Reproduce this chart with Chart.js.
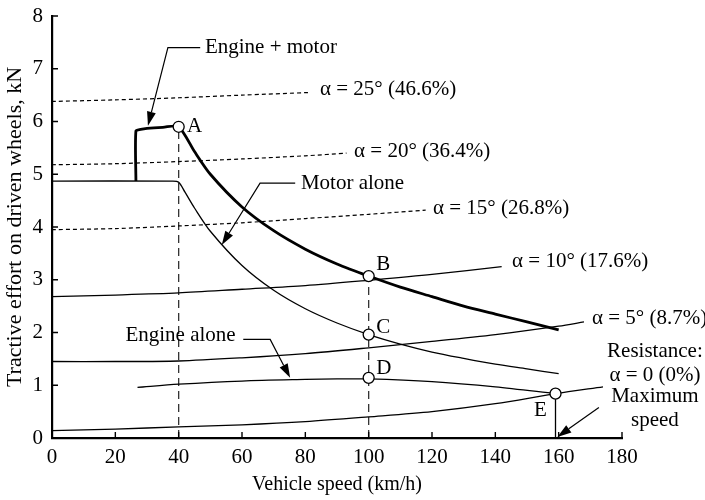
<!DOCTYPE html>
<html>
<head>
<meta charset="utf-8">
<script src="https://cdn.jsdelivr.net/npm/chart.js@4/dist/chart.umd.min.js"></script>
<style>
  html, body { margin: 0; padding: 0; background: #fff; }
</style>
</head>
<body>
<canvas id="myChart" width="705" height="500"></canvas>
<script>
// curves, [speed km/h, effort kN]
const engineMotor = [[26.5, 4.87], [26.5, 5.82], [28, 5.85], [30, 5.87], [35, 5.89], [40, 5.9], [45, 5.43], [50, 5.0], [60, 4.38], [70, 3.93], [80, 3.58], [90, 3.3], [100, 3.07], [110, 2.86], [120, 2.68], [130, 2.5], [140, 2.35], [150, 2.2], [160, 2.05]];
const motorAlone = [[0, 4.87], [38, 4.87], [40, 4.85], [42, 4.66], [45, 4.36], [50, 3.92], [60, 3.27], [70, 2.8], [80, 2.45], [90, 2.18], [100, 1.96], [110, 1.78], [120, 1.63], [130, 1.51], [140, 1.4], [150, 1.31], [160, 1.22]];
const engineAlone = [[27, 0.96], [40, 1.02], [60, 1.08], [80, 1.11], [90, 1.12], [100, 1.12], [120, 1.07], [140, 0.97], [159, 0.84]];

const grade0 = [[0, 0.14], [20, 0.17], [40, 0.21], [60, 0.25], [80, 0.31], [100, 0.4], [120, 0.5], [140, 0.65], [159, 0.84], [174, 0.97]];
const grade5 = [[0, 1.45], [20, 1.45], [40, 1.46], [60, 1.52], [80, 1.6], [100, 1.71], [120, 1.83], [140, 1.96], [160, 2.12], [168, 2.2]];
const grade10 = [[0, 2.68], [20, 2.71], [40, 2.75], [60, 2.82], [80, 2.89], [100, 2.99], [120, 3.1], [142, 3.25]];
const grade15 = [[0, 3.95], [20, 3.97], [40, 4.02], [60, 4.08], [80, 4.16], [100, 4.24], [118, 4.32]];
const grade20 = [[0, 5.18], [20, 5.2], [40, 5.24], [60, 5.29], [80, 5.35], [93, 5.4]];
const grade25 = [[0, 6.38], [20, 6.41], [40, 6.45], [60, 6.5], [81.5, 6.55]];

const markedPoints = [[40, 5.9], [100, 3.07], [100, 1.96], [100, 1.14], [159, 0.84]];
const pointNames = ["A", "B", "C", "D", "E"];
const dropA = [[40, 0], [40, 5.9]];
const dropB = [[100, 0], [100, 3.07]];
const dropE = [[159, 0], [159, 0.84]];

const gradeNames = ["α = 25° (46.6%)", "α = 20° (36.4%)", "α = 15° (26.8%)", "α = 10° (17.6%)", "α = 5° (8.7%)"];

const FONT = "'Liberation Serif', 'Times New Roman', serif";

// where the annotation texts sit, in axis units
const gradeLabelPos = [[84.6, 6.61], [95.4, 5.43], [120.3, 4.36], [145.3, 3.34], [170.5, 2.27]];
const pointLabelPos = [[42.6, 5.9, "left"], [102.4, 3.28, "left"], [102.4, 2.09, "left"], [102.4, 1.31, "left"], [156.3, 0.53, "right"]];

const line = (data, extra) => Object.assign({
  data, showLine: true, pointRadius: 0, borderColor: "#000",
  borderWidth: 1.3, tension: 0.3, fill: false
}, extra);

function arrow(ctx, pts) {
  const n = pts.length;
  const a = pts[n - 2], b = pts[n - 1];
  const ang = Math.atan2(b[1] - a[1], b[0] - a[0]);
  const L = 14, W = 4.5;
  const bx = b[0] - L * Math.cos(ang), by = b[1] - L * Math.sin(ang);
  ctx.beginPath();
  ctx.moveTo(pts[0][0], pts[0][1]);
  for (let i = 1; i < n - 1; i++) ctx.lineTo(pts[i][0], pts[i][1]);
  ctx.lineTo(bx, by);
  ctx.stroke();
  ctx.beginPath();
  ctx.moveTo(b[0], b[1]);
  ctx.lineTo(bx + W * Math.sin(ang), by - W * Math.cos(ang));
  ctx.lineTo(bx - W * Math.sin(ang), by + W * Math.cos(ang));
  ctx.closePath();
  ctx.fill();
}

const annotations = {
  id: "annotations",
  afterDatasetsDraw(chart) {
    const { ctx, chartArea, scales: { x, y } } = chart;
    const X = (v) => x.getPixelForValue(v);
    const Y = (v) => y.getPixelForValue(v);
    const P = (p) => [X(p[0]), Y(p[1])];

    ctx.save();
    ctx.strokeStyle = "#000";
    ctx.fillStyle = "#000";
    ctx.lineWidth = 1.4;

    // inward tick marks
    ctx.beginPath();
    x.ticks.forEach((t) => {
      if (t.value === 0) return;
      ctx.moveTo(X(t.value), chartArea.bottom);
      ctx.lineTo(X(t.value), chartArea.bottom - 6);
    });
    y.ticks.forEach((t) => {
      if (t.value === 0) return;
      ctx.moveTo(chartArea.left, Y(t.value));
      ctx.lineTo(chartArea.left + 6, Y(t.value));
    });
    ctx.stroke();

    ctx.font = "21px " + FONT;
    ctx.textBaseline = "middle";

    // grade labels
    ctx.textAlign = "left";
    gradeNames.forEach((t, i) => {
      const p = P(gradeLabelPos[i]);
      ctx.fillText(t, p[0], p[1]);
    });

    // point labels
    pointNames.forEach((t, i) => {
      const q = pointLabelPos[i];
      ctx.textAlign = q[2];
      ctx.fillText(t, X(q[0]), Y(q[1]));
    });

    // curve names with leaders
    ctx.lineWidth = 1.2;
    ctx.textAlign = "left";
    ctx.fillText("Engine + motor", X(48.3), Y(7.4));
    arrow(ctx, [P([46.8, 7.4]), P([36.6, 7.4]), P([30.3, 5.92])]);

    ctx.fillText("Motor alone", X(78.6), Y(4.83));
    arrow(ctx, [P([76.8, 4.83]), P([65.7, 4.83]), P([53.6, 3.66])]);

    ctx.textAlign = "right";
    ctx.fillText("Engine alone", X(58), Y(1.95));
    arrow(ctx, [P([60.4, 1.87]), P([68.9, 1.87]), P([75.2, 1.14])]);

    // resistance / maximum speed block
    ctx.textAlign = "center";
    ctx.fillText("Resistance:", X(190.4), Y(1.64));
    ctx.fillText("α = 0 (0%)", X(190.4), Y(1.19));
    ctx.fillText("Maximum", X(190.4), Y(0.78));
    ctx.fillText("speed", X(190.4), Y(0.34));
    arrow(ctx, [P([172.7, 0.58]), P([159.6, 0.02])]);

    ctx.restore();
  }
};

const config = {
  type: "scatter",
  data: {
    datasets: [
      {
        data: markedPoints, pointRadius: 5.5, pointBackgroundColor: "#fff",
        pointBorderColor: "#000", pointBorderWidth: 1.3, showLine: false
      },
      line(engineMotor, { borderWidth: 2.8, tension: 0.25 }),
      line(motorAlone, { tension: 0.3 }),
      line(engineAlone),
      line(grade0),
      line(grade5),
      line(grade10),
      line(grade15, { borderDash: [4, 3], borderWidth: 1.2 }),
      line(grade20, { borderDash: [4, 3], borderWidth: 1.2 }),
      line(grade25, { borderDash: [4, 3], borderWidth: 1.2 }),
      line(dropA, { borderDash: [8, 5], borderWidth: 1.3, tension: 0, borderColor: "#333" }),
      line(dropB, { borderDash: [8, 5], borderWidth: 1.3, tension: 0, borderColor: "#333" }),
      line(dropE, { tension: 0 })
    ]
  },
  options: {
    responsive: false,
    animation: false,
    devicePixelRatio: 1,
    layout: { padding: { top: 16, right: 83, left: 0, bottom: 0 } },
    plugins: { legend: { display: false }, tooltip: { enabled: false } },
    scales: {
      x: {
        type: "linear",
        min: 0,
        max: 180,
        ticks: { stepSize: 20, color: "#000", font: { family: FONT, size: 21 }, padding: 7 },
        grid: { display: false, drawTicks: false },
        border: { display: true, color: "#000", width: 2.2 },
        title: {
          display: true, text: "Vehicle speed (km/h)", color: "#000",
          font: { family: FONT, size: 20 }, padding: { top: 4, bottom: 3 }
        },
        afterFit: (s) => { s.height = 62; s.paddingLeft = 0; s.paddingRight = 0; }
      },
      y: {
        min: 0,
        max: 8,
        ticks: { stepSize: 1, color: "#000", font: { family: FONT, size: 21 }, padding: 9 },
        grid: { display: false, drawTicks: false },
        border: { display: true, color: "#000", width: 2.2 },
        title: {
          display: true, text: "Tractive effort on driven wheels, kN", color: "#000",
          font: { family: FONT, size: 22 }, padding: { top: 2, bottom: 0 }
        },
        afterFit: (s) => { s.width = 52; s.paddingTop = 0; s.paddingBottom = 0; }
      }
    }
  },
  plugins: [annotations]
};

const myChart = new Chart(document.getElementById("myChart"), config);
</script>
</body>
</html>
